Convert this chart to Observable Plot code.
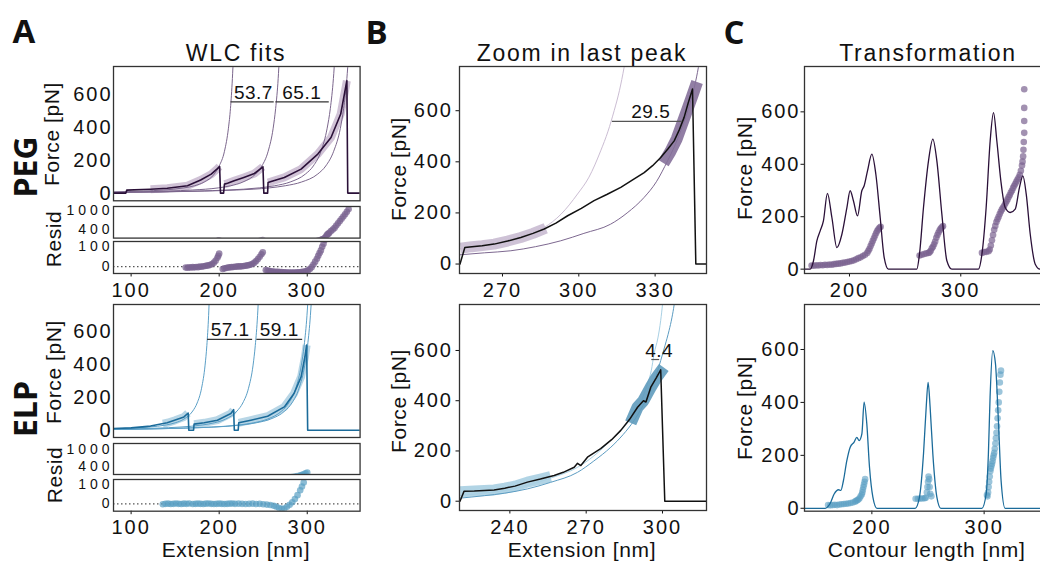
<!DOCTYPE html>
<html><head><meta charset="utf-8">
<script src="https://cdn.jsdelivr.net/npm/d3@7"></script>
<script src="https://cdn.jsdelivr.net/npm/@observablehq/plot@0.6"></script>
<style>
html,body{margin:0;padding:0;background:#fff;overflow:hidden;}
#fig{position:relative;width:1040px;height:561px;overflow:hidden;font-family:"Liberation Sans",Arial,sans-serif;color:#111;background:#fff;}
.lbl{position:absolute;white-space:nowrap;line-height:1;transform:translate(-50%,-50%);}
</style></head><body><div id="fig"></div>
<script>
// ---------------- DATA (extension nm, force pN) ----------------
// Panel A – PEG
const pegTrace = [[80,0],[94,0],[95,18],[122,24],[141,30],[164,45],[179,80],[191,116],[198,150],[200.5,163],[201.5,0],[205,0],[206,55],[209.5,60],[217,75],[228,96],[240,120],[249.7,161],[250.7,0],[255,0],[255.5,65],[259,71],[274,96],[293,147],[312,239],[327,340],[338,484],[345,688],[346,0],[360,0]];
const pegBand1 = [[122,24],[141,30],[164,45],[179,80],[191,116],[198,150],[200.3,162]];
const pegBand2 = [[206,55],[209.5,60],[217,75],[228,96],[240,120],[249.5,160]];
const pegBand3 = [[255.5,65],[259,71],[274,96],[293,147],[312,239],[327,340],[338,484],[345,688]];
const pegFit1 = [[80,7],[114,12.5],[137,19],[160,32],[172,45],[183,68],[194.5,117],[200,166],[206,256],[210.5,397],[212.8,517],[215,701],[217.4,1007]];
const pegFit2 = [[80,5],[142,12.5],[170,19],[199,32],[213,45],[227,68],[241.4,117],[248.5,166],[255.6,256],[261.3,397],[264.1,517],[267,701],[269.8,1007]];
const pegFit3 = [[80,4],[175,12.5],[210,19],[245.5,32],[263,45],[280.6,68],[298,117],[306.9,166],[315.6,256],[322.6,397],[326.2,517],[329.7,701],[333.2,1007]];
const pegFit4 = [[80,4],[183.5,12.5],[220,19],[257,32],[275,45],[293.6,68],[312,117],[321,166],[330,256],[337.6,397],[341.3,517],[345,701],[348.7,1007]];
const pegGapText = ["53.7", "65.1"];
const pegGapFrom = [213.4, 264.4];
const pegGapTo = [262.5, 325];
const pegGapForce = [559, 559];
const pegGapTextExt = [238.9, 293.8];
const pegResid = [[162,-5],[164,-6],[166,-4],[168,-5],[170,-3],[172,-4],[174,-2],[176,-3],[178,0],[180,-1],[182,2],[184,3],[186,5],[188,6],[190,9],[192,13],[194,20],[196,30],[198,45],[199,55],[200,66],
 [204,-12],[206,-9],[208,-7],[210,-5],[212,-4],[214,-3],[216,-2],[218,-1],[220,0],[222,1],[224,1],[226,2],[228,3],[230,4],[232,6],[234,8],[236,10],[238,14],[240,20],[242,28],[244,38],[246,50],[248,62],[249.5,72],
 [253,-18],[255,-20],[257,-22],[259,-24],[261,-25],[263,-26],[265,-27],[267,-27],[269,-28],[271,-28],[273,-29],[275,-29],[277,-30],[279,-30],[281,-30],[283,-30],[285,-30],[287,-30],[289,-29],[291,-29],[293,-28],[295,-27],[297,-25],[299,-23],[301,-19],[303,-12],[305,-3],[307,10],[309,25],[311,40],[312.5,55],[314,68],[315.5,82],[317,100],[318.5,115],[320,135],[321,170],[322,215],[323,250],[324,270],[325,300],[327,350],[329,400],[331,450],[333,520],[335,590],[337,660],[339,730],[341,800],[343,870],[345,950],[347,1030]];

// Panel A – ELP
const elpTrace = [[80,10],[100,14],[122,25],[141,45],[160,81],[164.8,105],[165.5,0],[170.9,0],[171.5,37],[183,45],[198,61],[213.3,102],[216.4,125],[217.2,0],[221.6,0],[222.2,45],[236,61],[255,85],[274,142],[285,224],[293,325],[297.4,448],[299.3,519],[300.5,0],[360,0]];
const elpBand1 = [[136,40],[141,45],[150,60],[160,81],[164.5,103]];
const elpBand2 = [[171.5,37],[183,45],[198,61],[213.3,102],[216.2,123]];
const elpBand3 = [[222.2,45],[236,61],[255,85],[274,142],[285,224],[293,325],[297.4,448],[299.3,519]];
const elpFit1 = [[80,8.4],[100,12.5],[120,19],[140,32],[150,45],[160,68],[170,117],[175,166],[180,256],[184,397],[186,517],[188,701],[190,1007]];
const elpFit2 = [[80,5.9],[129.6,12.5],[155.5,19],[181.4,32],[194.4,45],[207.4,68],[220.3,117],[226.8,166],[233.3,256],[238.5,397],[241,517],[243.6,701],[246.2,1007]];
const elpFit3 = [[80,4.4],[159.4,12.5],[191.3,19],[223.2,32],[239.1,45],[255,68],[271,117],[279,166],[287,256],[293.3,397],[296.5,517],[299.7,701],[302.9,1007]];
const elpFit4 = [[80,4.3],[161.5,12.5],[193.8,19],[226,32],[242,45],[258.4,68],[274.5,117],[282.6,166],[290.7,256],[297.2,397],[300.4,517],[303.6,701],[306.9,1007]];
const elpGapText = ["57.1", "59.1"];
const elpGapFrom = [186.8, 242.8];
const elpGapTo = [238, 294.8];
const elpGapForce = [554, 554];
const elpGapTextExt = [212.4, 268.2];
const elpResid = [[136,-2],[139,0],[142,1],[145,-1],[148,0],[151,2],[154,0],[157,-1],[160,1],[163,0],[166,2],
 [170,-1],[173,0],[176,1],[179,0],[182,-1],[185,1],[188,2],[191,0],[194,-1],[197,0],[200,1],[203,0],[206,-1],[209,0],[212,1],[215,2],[218,0],
 [222,1],[226,0],[230,-1],[234,0],[238,1],[242,-1],[246,0],[250,-2],[254,-4],[258,-6],[262,-10],[265,-15],[268,-22],[271,-26],[274,-24],[277,-15],[280,-5],[283,8],[286,25],[289,45],[292,70],[294,90],[296,110],[298,140],[300,170]];

// Panel B – zoom in last peak
const pegZoomTrace = [[253.3,0],[255.2,65],[258,68],[262,72],[266.7,78],[272,90],[277.2,104],[282,120],[286.4,137],[291,160],[295.6,189],[301,218],[306,248],[311,272],[316.5,300],[321,328],[325.7,358],[329,385],[332.2,417],[335,450],[337.5,482],[339.5,525],[341.4,574],[343,630],[344.7,685],[346,0],[350.2,0]];
const pegZoomBand1 = [[253.5,62],[258,68],[262,72],[266.7,78],[272,90],[277.2,104],[282,120],[287,140]];
const pegZoomBand2 = [[333.3,395],[336,440],[338.5,490],[340.5,545],[342.5,600],[344.5,655],[346.5,712]];
const pegZoomFitA = [[253.1,59],[260,68],[269.3,85],[278,110],[286.4,143],[293,195],[299.5,274],[304,340],[308.6,443],[311.5,520],[313.9,600],[316,680],[317.8,769],[319,840]];
const pegZoomFitB = [[253.1,36],[263,44],[273.3,52],[283,68],[292.9,91],[302,120],[312.5,156],[319,200],[325.7,261],[330.5,322],[334.9,404],[337.6,460],[340.1,522],[342.2,580],[344,639],[345.6,700],[347,769],[348,830]];
const pegZoomGap = {text: "29.5", from: 313.2, to: 340.8, force: 558, textExt: 328.3};

const elpZoomTrace = [[220.4,0],[222,40],[226,41],[230,43],[233.8,45],[238,52],[242,60],[246.9,76],[252,88],[257.4,102],[261,115],[265.3,135],[266.6,151],[267.9,142],[270.5,175],[275.7,209],[280,245],[283.6,282],[287,325],[290.2,374],[292.5,400],[293.5,395],[295.4,454],[297.5,490],[299.3,523],[300.9,0],[317.3,0]];
const elpZoomBand1 = [[220.5,38],[226,41],[230,43],[233.8,45],[238,52],[242,60],[246.9,76],[252,88],[256,98]];
const elpZoomBand2 = [[287.5,312],[290.2,374],[292.5,400],[295.4,454],[297.5,490],[300.5,532]];
const elpZoomFitA = [[220.2,23],[230,32],[238,42],[246.9,63],[256,92],[266.6,135],[273,180],[279.7,242],[284.5,290],[288.8,348],[291.7,400],[294.1,467],[295.6,520],[296.7,587],[298.2,650],[299.3,720],[300,783],[300.6,850]];
const elpZoomFitB = [[220.2,12],[230,22],[238,32],[246.9,49],[256,75],[266.6,115],[273,160],[279.7,215],[284.5,265],[288.8,321],[292.3,380],[295.4,441],[297.5,500],[299.3,560],[301,620],[302.6,680],[303.7,730],[304.6,783],[305.3,840]];
const elpZoomGap = {text: "4.4", from: 295.8, to: 298.9, force: 564, textExt: 298.7};

// Panel C – transformation (contour length nm, force pN)
const pegKde = [[159.6,0],[164.7,0],[167.7,32],[170.7,108],[173.7,146],[176.6,184],[180.2,289],[184.2,197],[188.7,82],[193.2,133],[197.7,235],[200.6,299],[203.6,260],[207.2,203],[211.1,299],[213.2,318],[216.2,375],[220.1,439],[223.7,362],[227.6,197],[231.2,44],[235,0],[260.5,0],[262.9,57],[266.5,235],[271,413],[274.9,496],[278.5,413],[283,210],[287.5,32],[292,0],[315.9,0],[319,57],[322.8,235],[326.4,489],[329.4,597],[332.4,489],[336,337],[339.9,235],[344.4,216],[348.9,229],[352.7,311],[355.8,356],[358.8,286],[362.4,133],[366.9,19],[371.3,0],[385,0]];
const pegContour = [[166,14],[168,13],[170,15],[172,14],[174,16],[176,15],[178,17],[180,16],[182,18],[184,17],[186,19],[188,20],[190,21],[192,22],[194,24],[196,25],[198,27],[200,29],[202,31],[204,34],[206,38],[208,42],[210,45],[212,50],[214,55],[216,62],[217,70],[218,78],[219,88],[220,98],[221,108],[222,118],[223,128],[224,138],[225,146],[226,152],[227,158],[228,162],
 [263,52],[265,55],[267,58],[269,60],[271,62],[272,64],[273,70],[274,80],[275,85],[276,95],[277,105],[278,120],[279,130],[280,140],[281,148],[282,155],[283,160],[284,164],
 [319,62],[321,65],[323,66],[325,68],[326,75],[327,90],[328,110],[329,130],[330,150],[331,165],[332,180],[333,190],[334,200],[335,210],[336,220],[337,228],[338,235],[339,242],[340,250],[341,258],[342,266],[343,275],[344,283],[345,292],[346,300],[347,310],[348,318],[349,326],[350,334],[351,342],[352,350],[353,360],[354,375],[355,395],[355.5,410],[356,430],[356.3,455],[356.6,485],[357,520],[357,565],[357,615],[357,686]];
const elpKde = [[140,0],[158.4,0],[162.9,19],[166.4,54],[170.3,70],[172.4,68],[174.7,105],[177.7,180],[180.7,231],[184.2,250],[186.6,268],[188.7,256],[191.1,281],[193.1,401],[195.5,319],[197.9,155],[200.9,42],[204.5,0],[238.6,0],[242.4,42],[246,206],[248.4,382],[250.1,476],[251.9,382],[254.3,206],[257.9,42],[261.4,0],[298,0],[301.8,54],[303.8,206],[305.3,420],[307.7,596],[310.1,546],[312.7,332],[315.1,105],[318.7,0],[365,0]];
const elpContour = [[161,12],[163,11],[165,12],[167,13],[169,12],[171,14],[173,15],[175,16],[177,17],[179,18],[181,20],[183,22],[185,25],[186,28],[187,30],[188,33],[189,38],[190,45],[191,52],[191.5,60],[192,70],[192.5,80],[193,90],[193.5,100],[194,110],
 [239,36],[241,36],[243,37],[245,37],[247,38],[248,40],[249,60],[249.5,80],[250,100],[250.5,120],[251,110],[251.5,80],[252,55],[253,45],
 [302.5,50],[303,45],[303.5,60],[304,80],[304.5,100],[305,120],[305.5,140],[306,150],[306.5,160],[307,168],[307.5,178],[308,190],[308.5,200],[309,210],[309.5,225],[310,245],[310.5,265],[311,285],[311.5,310],[312,340],[312.5,370],[313,400],[313.5,440],[314,475],[314.5,505],[315,520]];

// tick values
const extTicksA = [100, 200, 300];
const forceTicks = [0, 200, 400, 600];
const residTicksHigh = [400, 1000];
const residTicksLow = [0, 100];
const extTicksBtop = [270, 300, 330];
const extTicksBbot = [240, 270, 300];
const contourTicks = [200, 300];

// ---------------- helpers ----------------
const fig = document.getElementById("fig");
const P = arr => arr.map(([x, y]) => ({x, y}));
const FONT = '"Liberation Sans", Arial, Helvetica, sans-serif';
const fmt = d => String(d);
const hasAxisMarks = typeof Plot.axisY === "function";

function addLabel(text, cx, cy, size, o = {}) {
  const d = document.createElement("div");
  d.className = "lbl";
  d.textContent = text;
  d.style.left = cx + "px";
  d.style.top = cy + "px";
  d.style.fontSize = size + "px";
  if (o.rotate) d.style.transform = `translate(-50%,-50%) rotate(${o.rotate}deg)`;
  if (o.bold) { d.style.fontWeight = "700"; d.style.fontFamily = '"Open Sans", "DejaVu Sans", sans-serif'; }
  if (o.ls != null) d.style.letterSpacing = o.ls + "px";
  fig.appendChild(d);
}

function panel(rect, cfg) {
  const ml = 80, mr = 12, mt = 12, mb = 44;
  const w = rect[2] - rect[0], h = rect[3] - rect[1];
  const yFont = cfg.yFont || 20;
  const yts = cfg.yts != null ? cfg.yts : 3.5;
  const ytp = cfg.ytp != null ? cfg.ytp : 3;
  const axes = [];
  if (hasAxisMarks) {
    axes.push(Plot.axisY(cfg.yt, {tickSize: yts, tickPadding: ytp, tickFormat: fmt, fontSize: yFont, label: null}));
    if (cfg.xt) axes.push(Plot.axisX(cfg.xt, {tickSize: 3.5, tickPadding: 5.5, tickFormat: fmt, fontSize: 20, label: null}));
  }
  const svg = Plot.plot({
    width: w + ml + mr, height: h + mt + mb,
    marginLeft: ml, marginRight: mr, marginTop: mt, marginBottom: mb,
    style: {background: "transparent", overflow: "visible", maxWidth: "none", fontFamily: FONT,
            fontSize: (hasAxisMarks ? 20 : yFont) + "px", letterSpacing: "2px", color: "#111"},
    x: {domain: cfg.xd, ticks: cfg.xt || [], axis: cfg.xt ? (hasAxisMarks ? undefined : "bottom") : null, tickSize: 3.5, tickPadding: 5.5, tickFormat: fmt, label: null},
    y: {domain: cfg.yd, ticks: cfg.yt, tickSize: yts, tickPadding: ytp, tickFormat: fmt, label: null},
    marks: [...cfg.marks, ...axes, Plot.frame({stroke: "#333", strokeWidth: 1.3})]
  });
  // letter-spacing tweaks: annotation numbers tighter, resid ticks wider
  svg.querySelectorAll('g[aria-label="text"] text').forEach(t => t.style.letterSpacing = "0.5px");
  if (cfg.yLs != null) svg.querySelectorAll('g[aria-label="y-axis tick label"] text').forEach(t => t.style.letterSpacing = cfg.yLs + "px");
  svg.style.position = "absolute";
  svg.style.left = (rect[0] - ml) + "px";
  svg.style.top = (rect[1] - mt) + "px";
  fig.appendChild(svg);
}

const lineM = (arr, stroke, w, extra = {}) => Plot.line(P(arr), {x: "x", y: "y", stroke, strokeWidth: w, clip: true, ...extra});
const fitM = (arr, stroke) => lineM(arr, stroke, 1, {curve: "monotone-x"});
const bandM = (arr, stroke, w, op) => lineM(arr, stroke, w, {strokeOpacity: op, strokeLinecap: "butt", strokeLinejoin: "round"});
const dotsM = (arr, fill, op) => Plot.dot(P(arr), {x: "x", y: "y", r: 3.3, fill, fillOpacity: op, stroke: "none", clip: true});
const gapMarks = (text, from, to, force, textExt, stroke) => {
  const rows = text.map((t, i) => ({t, a: from[i], b: to[i], f: force[i], tx: textExt[i]}));
  return [
    Plot.ruleY(rows, {y: "f", x1: "a", x2: "b", stroke, strokeWidth: 1.2}),
    Plot.text(rows, {x: "tx", y: "f", text: "t", dy: -3, lineAnchor: "bottom", fontSize: 19, fill: "#111"})
  ];
};

// colors
const PEG_DARK = "#2a1038", PEG_FIT = "#7a658c", PEG_BAND = "#c4b3cc", PEG_DOT = "#7a6390";
const ELP_DARK = "#1b6b9a", ELP_FIT = "#5a9fc6", ELP_BAND = "#a6cce0", ELP_DOT = "#5a9fc3";

// ---------------- Panel A ----------------
const xA = [80, 360];
panel([112.7, 65.7, 359.3, 200], {xd: xA, yd: [-47, 775], yt: forceTicks, yts: 0, ytp: 1, marks: [
  bandM(pegBand1, PEG_BAND, 8, 0.8), bandM(pegBand2, PEG_BAND, 8, 0.8), bandM(pegBand3, PEG_BAND, 8, 0.8),
  fitM(pegFit1, PEG_FIT), fitM(pegFit2, PEG_FIT), fitM(pegFit3, PEG_FIT), fitM(pegFit4, PEG_FIT),
  lineM(pegTrace, PEG_DARK, 1.6),
  ...gapMarks(pegGapText, pegGapFrom, pegGapTo, pegGapForce, pegGapTextExt, "#333")
]});
panel([112.7, 205.7, 359.3, 237.3], {xd: xA, yd: [134, 1111], yt: residTicksHigh, yts: 0, ytp: 0, yFont: 14, yLs: 4, marks: [
  dotsM(pegResid, PEG_DOT, 0.75)
]});
panel([112.7, 240.7, 359.3, 272.7], {xd: xA, xt: extTicksA, yd: [-35, 127], yt: residTicksLow, yts: 0, ytp: 0, yFont: 14, yLs: 4, marks: [
  Plot.ruleY([0], {stroke: "#555", strokeWidth: 1.3, strokeDasharray: "1.5,2.5"}),
  dotsM(pegResid, PEG_DOT, 0.75)
]});

panel([112.7, 304.3, 359.3, 437.3], {xd: xA, yd: [-44.6, 767], yt: forceTicks, yts: 0, ytp: 1, marks: [
  bandM(elpBand1, ELP_BAND, 8, 0.8), bandM(elpBand2, ELP_BAND, 8, 0.8), bandM(elpBand3, ELP_BAND, 8, 0.8),
  fitM(elpFit1, ELP_FIT), fitM(elpFit2, ELP_FIT), fitM(elpFit3, ELP_FIT), fitM(elpFit4, ELP_FIT),
  lineM(elpTrace, ELP_DARK, 1.6),
  ...gapMarks(elpGapText, elpGapFrom, elpGapTo, elpGapForce, elpGapTextExt, "#333")
]});
panel([112.7, 443, 359.3, 474], {xd: xA, yd: [101, 1216], yt: residTicksHigh, yts: 0, ytp: 0, yFont: 14, yLs: 4, marks: [
  dotsM(elpResid, ELP_DOT, 0.7)
]});
panel([112.7, 479, 359.3, 510.7], {xd: xA, xt: extTicksA, yd: [-38, 126], yt: residTicksLow, yts: 0, ytp: 0, yFont: 14, yLs: 4, marks: [
  Plot.ruleY([0], {stroke: "#555", strokeWidth: 1.3, strokeDasharray: "1.5,2.5"}),
  dotsM(elpResid, ELP_DOT, 0.7)
]});

// ---------------- Panel B ----------------
panel([458.7, 65.7, 705.7, 272.7], {xd: [253.1, 350.2], xt: extTicksBtop, yd: [-37, 773], yt: forceTicks, ytp: 3, marks: [
  bandM(pegZoomBand1, "#c9bbd1", 11, 0.9),
  fitM(pegZoomFitA, "#cbbdd3"), fitM(pegZoomFitB, "#7d6890"),
  bandM(pegZoomBand2, "#85709a", 12, 0.9),
  lineM(pegZoomTrace, "#111", 1.5),
  Plot.ruleY([pegZoomGap], {y: "force", x1: "from", x2: "to", stroke: "#555", strokeWidth: 1.2}),
  Plot.text([pegZoomGap], {x: "textExt", y: "force", text: "text", dy: -3, lineAnchor: "bottom", fontSize: 19, fill: "#111"})
]});
panel([458.7, 304, 705.7, 510], {xd: [220.2, 317.3], xt: extTicksBbot, yd: [-37, 783], yt: forceTicks, ytp: 3, marks: [
  bandM(elpZoomBand1, "#a9cfe2", 11, 0.9),
  fitM(elpZoomFitA, "#a8d0e4"), fitM(elpZoomFitB, "#5c9cc2"),
  bandM(elpZoomBand2, "#5f9bbd", 12, 0.9),
  lineM(elpZoomTrace, "#111", 1.5),
  Plot.ruleY([elpZoomGap], {y: "force", x1: "from", x2: "to", stroke: "#555", strokeWidth: 1.2}),
  Plot.text([elpZoomGap], {x: "textExt", y: "force", text: "text", dy: -3, lineAnchor: "bottom", fontSize: 19, fill: "#111"})
]});

// ---------------- Panel C ----------------
panel([804.3, 65.7, 1051.3, 272.7], {xd: [159.6, 381.5], xt: contourTicks, yd: [-16.6, 773], yt: forceTicks, ytp: 0.5, marks: [
  dotsM(pegContour, PEG_DOT, 0.7),
  lineM(pegKde, PEG_DARK, 1.3, {curve: "monotone-x"})
]});
panel([804.3, 304, 1051.3, 510.7], {xd: [140, 360], xt: contourTicks, yd: [-11, 770], yt: forceTicks, ytp: 0.5, marks: [
  dotsM(elpContour, ELP_DOT, 0.6),
  lineM(elpKde, ELP_DARK, 1.3, {curve: "monotone-x"})
]});

// ---------------- Text ----------------
addLabel("A", 24, 30, 33, {bold: true});
addLabel("B", 376.7, 31, 33, {bold: true});
addLabel("C", 734, 31, 33, {bold: true});
addLabel("WLC fits", 236, 52.5, 23, {ls: 1.7});
addLabel("Zoom in last peak", 582, 53, 23, {ls: 1.7});
addLabel("Transformation", 928, 52.5, 23, {ls: 1.7});
addLabel("PEG", 25, 167, 32, {bold: true, rotate: -90});
addLabel("ELP", 25, 409, 32, {bold: true, rotate: -90});
addLabel("Force [pN]", 51, 133.5, 21, {rotate: -90, ls: 0.6});
addLabel("Force [pN]", 52.5, 371.5, 21, {rotate: -90, ls: 0.6});
addLabel("Force [pN]", 397.5, 168.5, 21, {rotate: -90, ls: 0.6});
addLabel("Force [pN]", 397.5, 401, 21, {rotate: -90, ls: 0.6});
addLabel("Force [pN]", 744.2, 168, 21, {rotate: -90, ls: 0.6});
addLabel("Force [pN]", 744.2, 407.5, 21, {rotate: -90, ls: 0.6});
addLabel("Resid", 52.5, 239, 21, {rotate: -90, ls: 0.6});
addLabel("Resid", 54, 475, 21, {rotate: -90, ls: 0.6});
addLabel("Extension [nm]", 236, 549, 21, {ls: 0.7});
addLabel("Extension [nm]", 582, 549, 21, {ls: 0.7});
addLabel("Contour length [nm]", 926.7, 549, 21, {ls: 0.7});
</script></body></html>
